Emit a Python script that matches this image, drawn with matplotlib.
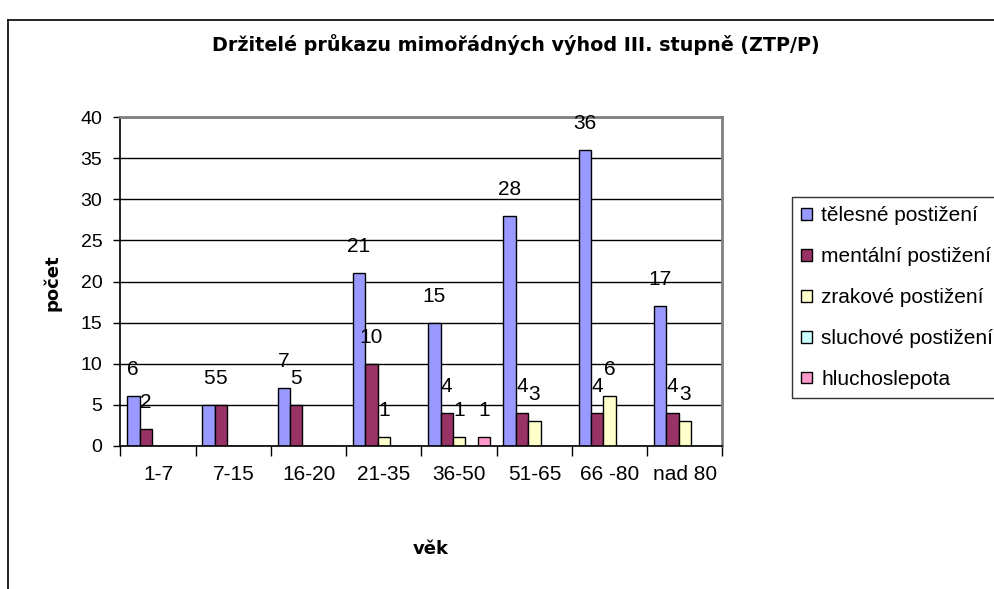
import matplotlib.pyplot as plt
import numpy as np
from matplotlib.lines import Line2D

vek = ["1-7", "7-15", "16-20", "21-35", "36-50", "51-65", "66 -80", "nad 80"]
telesne = [6, 5, 7, 21, 15, 28, 36, 17]
mentalni = [2, 5, 5, 10, 4, 4, 4, 4]
zrakove = [0, 0, 0, 1, 1, 3, 6, 3]
sluchove = [0, 0, 0, 0, 0, 0, 0, 0]
hluchoslepota = [0, 0, 0, 0, 1, 0, 0, 0]

serie = [
    ("tělesné postižení", telesne, "#9999FF"),
    ("mentální postižení", mentalni, "#993366"),
    ("zrakové postižení", zrakove, "#FFFFCC"),
    ("sluchové postižení", sluchove, "#CCFFFF"),
    ("hluchoslepota", hluchoslepota, "#FF99CC"),
]

fig = plt.figure(figsize=(9.95, 5.89), dpi=100)
ax = fig.add_axes([120.5 / 995, 1 - 445.5 / 589, 602 / 995, 328 / 589])

x = np.arange(len(vek))
w = 0.165
for i, (nazev, hodnoty, barva) in enumerate(serie):
    pos = x + (i - 2) * w
    h = np.array(hodnoty)
    bars = ax.bar(pos, h, width=w, color=barva, edgecolor="black", linewidth=1.0, label=nazev)
    for b, v in zip(bars, h):
        if v > 0:
            ax.annotate(str(v), (b.get_x() + b.get_width() / 2, v), xytext=(0, 19),
                        textcoords="offset points", ha="center", va="center",
                        fontsize=15, family="Liberation Sans")

ax.set_xlim(-0.5, len(vek) - 0.5)
ax.set_ylim(0, 40)
ax.set_yticks(range(0, 41, 5))
ax.yaxis.grid(True, color="black", linewidth=1.0)
ax.set_axisbelow(True)

ax.set_xticks(x)
ax.set_xticklabels(vek, family="Liberation Sans", fontsize=15)
ax.set_xticks(np.arange(-0.5, len(vek), 1), minor=True)
ax.tick_params(axis="x", which="major", length=0, pad=14)
ax.tick_params(axis="x", which="minor", length=7, width=1, direction="out")
ax.tick_params(axis="y", length=5, width=1, pad=8)
for t in ax.get_yticklabels():
    t.set_family("Liberation Sans")
    t.set_fontsize(14)

for s in ["top", "right"]:
    ax.spines[s].set_color("#808080")
    ax.spines[s].set_linewidth(2)
for s in ["left", "bottom"]:
    ax.spines[s].set_color("black")
    ax.spines[s].set_linewidth(1.2)

fig.text(516 / 995, 1 - 45 / 589, "Držitelé průkazu mimořádných výhod III. stupně (ZTP/P)",
         ha="center", va="center", fontsize=13.8, fontweight="bold", family="DejaVu Sans")
fig.text(52 / 995, 1 - 283 / 589, "počet", rotation=90, ha="center", va="center",
         fontsize=13, fontweight="bold", family="DejaVu Sans")
fig.text(431 / 995, 1 - 549 / 589, "věk", ha="center", va="center",
         fontsize=13, fontweight="bold", family="DejaVu Sans")

leg = fig.legend(loc="upper left", bbox_to_anchor=(792 / 995, 1 - 197 / 589),
                 frameon=True, fancybox=False, borderaxespad=0, borderpad=0.45,
                 handlelength=0.5, handleheight=0.5, handletextpad=0.45,
                 labelspacing=1.05, prop={"family": "Liberation Sans", "size": 15})
leg.get_frame().set_edgecolor("black")
leg.get_frame().set_linewidth(1.0)

# border of the chart area
fig.add_artist(Line2D([8 / 995, 1.0], [1 - 20 / 589] * 2, transform=fig.transFigure,
                      color="black", linewidth=1.2))
fig.add_artist(Line2D([8 / 995] * 2, [0, 1 - 20 / 589], transform=fig.transFigure,
                      color="black", linewidth=1.2))

fig.savefig("out.png", dpi=100)
